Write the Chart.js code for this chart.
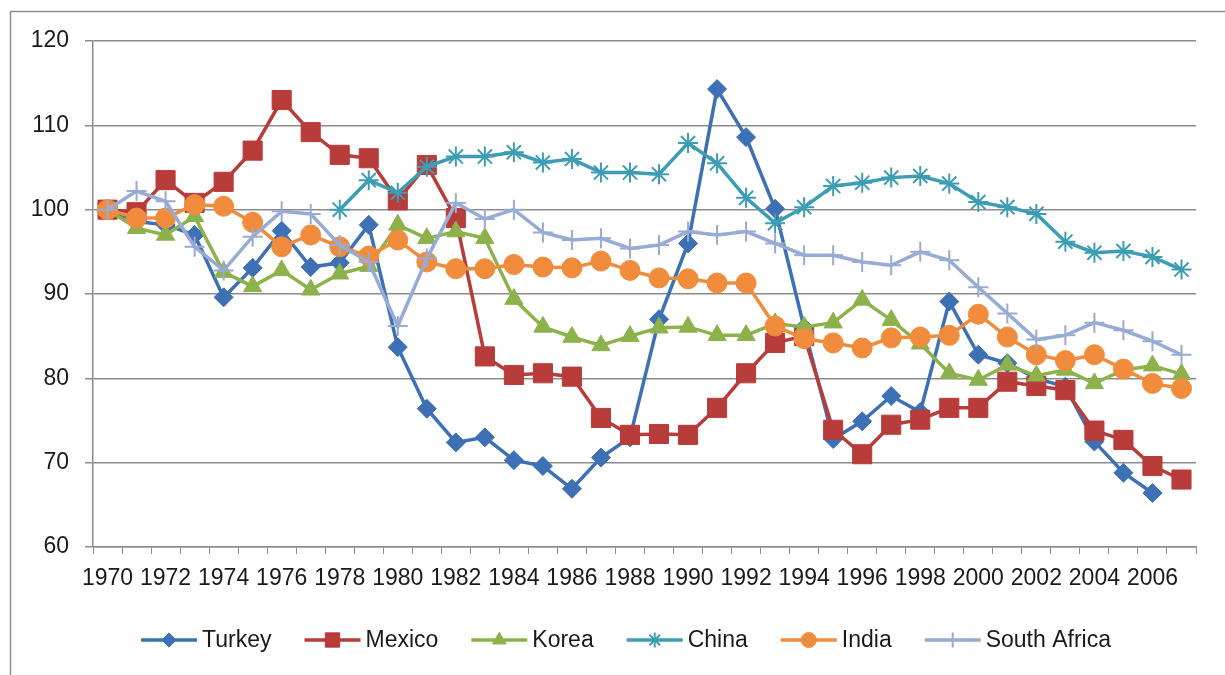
<!DOCTYPE html>
<html>
<head>
<meta charset="utf-8">
<script src="https://cdn.jsdelivr.net/npm/chart.js@4.4.1/dist/chart.umd.min.js"></script>
<style>
  html, body { margin: 0; padding: 0; background: #ffffff; }
  #wrap { width: 1225px; height: 675px; position: relative; }
</style>
</head>
<body>
<div id="wrap"><canvas id="c" width="1225" height="675"></canvas></div>
<script>
// Index of real values (1970 = 100)
const years = ['1970','1971','1972','1973','1974','1975','1976','1977','1978','1979',
               '1980','1981','1982','1983','1984','1985','1986','1987','1988','1989',
               '1990','1991','1992','1993','1994','1995','1996','1997','1998','1999',
               '2000','2001','2002','2003','2004','2005','2006','2007'];

const turkey = [100, 98.6, 98.2, 97.0, 89.6, 93.1, 97.5, 93.2, 93.7, 98.2,
                83.7, 76.4, 72.4, 73.0, 70.3, 69.6, 66.9, 70.6, 73.0, 87.0,
                96.0, 114.3, 108.6, 100.1, 86.0, 72.8, 74.9, 77.9, 76.0, 89.1,
                82.8, 81.8, 80.0, 79.0, 72.5, 68.8, 66.4, null];

const mexico = [100, 99.7, 103.5, 100.8, 103.3, 107.0, 113.0, 109.2, 106.5, 106.1,
                101.1, 105.3, 99.0, 82.6, 80.4, 80.6, 80.2, 75.3, 73.3, 73.4,
                73.3, 76.5, 80.6, 84.2, 85.0, 73.9, 71.0, 74.5, 75.1, 76.5,
                76.5, 79.6, 79.1, 78.6, 73.8, 72.7, 69.6, 68.0];

const korea = [100, 97.8, 97.0, 99.2, 92.6, 90.9, 92.8, 90.5, 92.4, 93.3,
               98.2, 96.6, 97.4, 96.6, 89.4, 86.1, 84.9, 83.9, 85.0, 86.0,
               86.1, 85.1, 85.1, 86.5, 86.1, 86.6, 89.3, 86.9, 84.1, 80.6,
               79.8, 81.6, 80.3, 81.0, 79.4, 81.0, 81.5, 80.5];

const china = [null, null, null, null, null, null, null, null, 100, 103.5,
               102.0, 105.1, 106.3, 106.3, 106.8, 105.6, 106.0, 104.4, 104.4, 104.2,
               107.9, 105.5, 101.4, 98.4, 100.3, 102.8, 103.2, 103.8, 104.0, 103.1,
               100.9, 100.3, 99.5, 96.2, 94.9, 95.1, 94.4, 92.9];

const india = [100, 99.0, 99.0, 100.6, 100.4, 98.5, 95.6, 97.0, 95.6, 94.5,
               96.4, 93.8, 93.0, 93.0, 93.5, 93.2, 93.1, 93.9, 92.8, 91.9,
               91.8, 91.3, 91.3, 86.2, 84.7, 84.2, 83.6, 84.8, 84.9, 85.1,
               87.6, 84.9, 82.8, 82.1, 82.8, 81.1, 79.4, 78.8];

const southAfrica = [100, 102.2, 101.0, 95.6, 92.8, 96.8, 99.8, 99.5, 95.8, 93.8,
                     86.2, 94.2, 100.8, 98.9, 100.0, 97.3, 96.4, 96.6, 95.4, 95.8,
                     97.4, 97.0, 97.4, 96.0, 94.6, 94.6, 93.8, 93.4, 95.0, 94.0,
                     90.8, 87.7, 84.6, 85.1, 86.6, 85.7, 84.4, 82.8];

const yMin = 60, yMax = 120, yStep = 10;

const FONT = 'Liberation Sans, Arial, sans-serif';
const FONT_SIZE = 23;
const TEXT = '#1a1a1a';
const GRID = '#8c8c8c';

function series(label, data, color, style, radius, borderWidth) {
  return {
    label, data,
    borderColor: color,
    backgroundColor: color,
    borderWidth: 3.5,
    pointStyle: style,
    pointRadius: radius,
    pointHoverRadius: radius,
    pointBackgroundColor: color,
    pointBorderColor: color,
    pointBorderWidth: borderWidth,
    tension: 0,
    spanGaps: false
  };
}

const datasets = [
  series('Turkey',       turkey,      '#3E70B5', 'rectRot',  9.5, 1),
  series('Mexico',       mexico,      '#B83C39', 'rect',    13.5, 1),
  series('Korea',        korea,       '#8DB24C', 'triangle', 10.5, 1),
  series('China',        china,       '#3D9DB5', 'star',     10,  2),
  series('India',        india,       '#F08C3C', 'circle',   10,  1),
  series('South Africa', southAfrica, '#97ABD4', 'cross',    10,  2)
];
// later series are painted on top of earlier ones
datasets.forEach((d, i) => { d.order = datasets.length - 1 - i; });

// white page with the grey frame of the chart object
const framePlugin = {
  id: 'frame',
  beforeDraw(chart) {
    const ctx = chart.ctx;
    ctx.save();
    ctx.fillStyle = '#ffffff';
    ctx.fillRect(0, 0, chart.width, chart.height);
    ctx.strokeStyle = '#8f8f8f';
    ctx.lineWidth = 1.5;
    ctx.strokeRect(10.5, 11.5, chart.width + 40, chart.height + 40);
    ctx.restore();
  }
};

// legend: line with marker, then the series name
const lineLegendPlugin = {
  id: 'lineLegend',
  afterDraw(chart) {
    const ctx = chart.ctx;
    const symW = 56, gapText = 5, gapItem = 33;
    const cy = 640, cx = 626;
    ctx.save();
    ctx.font = FONT_SIZE + 'px ' + FONT;
    ctx.textBaseline = 'middle';
    ctx.textAlign = 'left';
    const items = chart.data.datasets.map(ds => ({ ds, w: ctx.measureText(ds.label).width }));
    const total = items.reduce((s, it) => s + symW + gapText + it.w, 0) + gapItem * (items.length - 1);
    let x = cx - total / 2;
    items.forEach(({ ds, w }) => {
      ctx.strokeStyle = ds.borderColor;
      ctx.lineWidth = 3.5;
      ctx.beginPath();
      ctx.moveTo(x, cy);
      ctx.lineTo(x + symW, cy);
      ctx.stroke();
      ctx.fillStyle = ds.pointBackgroundColor;
      ctx.strokeStyle = ds.pointBorderColor;
      ctx.lineWidth = ds.pointBorderWidth;
      Chart.helpers.drawPoint(ctx, {
        pointStyle: ds.pointStyle,
        radius: ds.pointRadius * 0.75,
        borderWidth: ds.pointBorderWidth,
        rotation: 0
      }, x + symW / 2, cy);
      ctx.fillStyle = TEXT;
      ctx.fillText(ds.label, x + symW + gapText, cy + 1);
      x += symW + gapText + w + gapItem;
    });
    ctx.restore();
  }
};

new Chart(document.getElementById('c'), {
  type: 'line',
  data: { labels: years, datasets },
  plugins: [framePlugin, lineLegendPlugin],
  options: {
    responsive: false,
    animation: false,
    devicePixelRatio: 1,
    layout: { padding: { top: 41, right: 29, bottom: 0, left: 0 } },
    plugins: {
      legend: { display: false },
      tooltip: { enabled: false },
      title: { display: false }
    },
    scales: {
      x: {
        type: 'category',
        offset: true,
        grid: {
          offset: true,
          drawOnChartArea: false,
          drawTicks: true,
          tickLength: 7,
          color: GRID,
          lineWidth: 1
        },
        border: { display: true, color: GRID, width: 1.5 },
        ticks: {
          autoSkip: false,
          maxRotation: 0,
          minRotation: 0,
          padding: 11,
          color: TEXT,
          font: { family: FONT, size: FONT_SIZE },
          callback: (v, i) => (i % 2 === 0 ? years[i] : '')
        },
        afterFit: s => { s.height = 128; }
      },
      y: {
        min: yMin,
        max: yMax,
        ticks: {
          stepSize: yStep,
          padding: 16,
          color: TEXT,
          font: { family: FONT, size: FONT_SIZE }
        },
        grid: {
          color: GRID,
          lineWidth: 1.5,
          drawTicks: true,
          tickLength: 8
        },
        border: { display: true, color: GRID, width: 1.5 },
        afterFit: s => { s.width = 93; }
      }
    }
  }
});
</script>
</body>
</html>
